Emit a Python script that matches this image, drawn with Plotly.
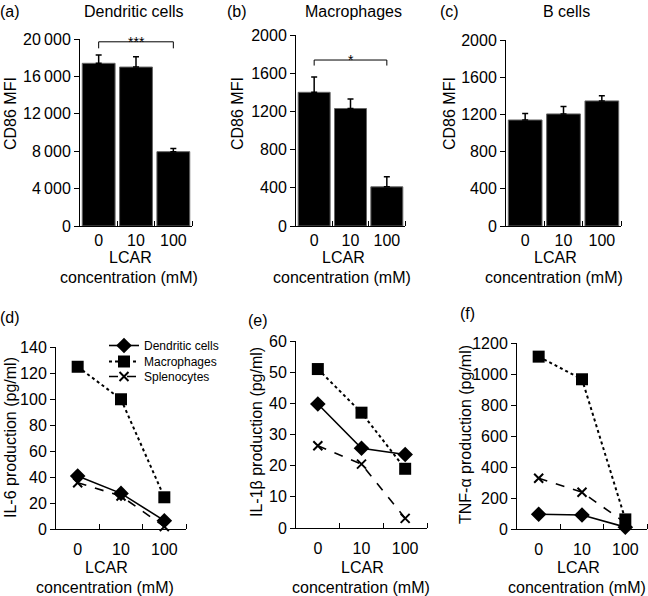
import plotly.graph_objects as go

# ---- data ----
conc_labels = ["0", "10", "100"]
xpos = [0, 1, 2]

# CD86 MFI (mean, upper error)
dc_cd86 = [17400, 17000, 7950]
dc_cd86_err = [900, 1100, 350]
mac_cd86 = [1400, 1230, 410]
mac_cd86_err = [160, 100, 105]
b_cd86 = [1140, 1205, 1345]
b_cd86_err = [70, 80, 55]

# cytokine production (pg/ml)
il6_dc = [40.8, 27.4, 6.4]
il6_mac = [124.8, 99.8, 24.4]
il6_spl = [35.6, 25.4, 1.8]

il1b_dc = [39.8, 25.6, 23.6]
il1b_mac = [51, 37, 19]
il1b_spl = [26.4, 20.5, 3.1]

tnf_dc = [95, 90, 12]
tnf_mac = [1112, 966, 62]
tnf_spl = [327, 237, 40]

W, H = 648, 596
FONT = "Liberation Sans"
THIN = "\u2009"


def dx(a, b):
    return [a / W, b / W]


def dy(top, bottom):
    return [1 - bottom / H, 1 - top / H]


fig = go.Figure()

# panel layout in pixels: (x0, x1, ytop, ybottom)
panels = {
    1: (80, 192, 39, 226),
    2: (296, 405, 35, 226),
    3: (506, 621, 40, 226),
    4: (56, 186, 347, 529),
    5: (296, 427, 341, 528),
    6: (517, 647, 343, 529),
}

bar_sets = [
    (1, dc_cd86, dc_cd86_err),
    (2, mac_cd86, mac_cd86_err),
    (3, b_cd86, b_cd86_err),
]
for i, vals, errs in bar_sets:
    fig.add_trace(
        go.Bar(
            x=xpos,
            y=vals,
            marker=dict(color="black", line=dict(color="#666", width=1)),
            error_y=dict(
                type="data",
                symmetric=False,
                array=errs,
                arrayminus=[0, 0, 0],
                color="black",
                thickness=1.5,
                width=3,
            ),
            xaxis=f"x{i}",
            yaxis=f"y{i}",
            showlegend=False,
        )
    )

series_style = [
    ("Dendritic cells", "solid", "diamond", 12, 1.6, "legend"),
    ("Macrophages", "dot", "square", 12, 2, "legend2"),
    ("Splenocytes", "dash", "x-thin", 9, 1.6, "legend3"),
]
line_sets = [
    (4, [il6_dc, il6_mac, il6_spl]),
    (5, [il1b_dc, il1b_mac, il1b_spl]),
    (6, [tnf_dc, tnf_mac, tnf_spl]),
]
for i, ys in line_sets:
    for (name, dash, sym, size, lw, leg), y in zip(series_style, ys):
        fig.add_trace(
            go.Scatter(
                x=xpos,
                y=y,
                mode="lines+markers",
                name=name,
                line=dict(color="black", dash=dash, width=lw),
                marker=dict(
                    symbol=sym,
                    size=size,
                    color="black",
                    line=dict(color="black", width=2 if sym == "x-thin" else 0),
                ),
                xaxis=f"x{i}",
                yaxis=f"y{i}",
                showlegend=(i == 4),
                legend=leg,
                cliponaxis=False,
            )
        )

yticks = {
    1: ([0, 4000, 8000, 12000, 16000, 20000],
        ["0", f"4{THIN}000", f"8{THIN}000", f"12{THIN}000", f"16{THIN}000", f"20{THIN}000"]),
    2: ([0, 400, 800, 1200, 1600, 2000], ["0", "400", "800", "1200", "1600", "2000"]),
    3: ([0, 400, 800, 1200, 1600, 2000], ["0", "400", "800", "1200", "1600", "2000"]),
    4: ([0, 20, 40, 60, 80, 100, 120, 140], ["0", "20", "40", "60", "80", "100", "120", "140"]),
    5: ([0, 10, 20, 30, 40, 50, 60], ["0", "10", "20", "30", "40", "50", "60"]),
    6: ([0, 200, 400, 600, 800, 1000, 1200], ["0", "200", "400", "600", "800", "1000", "1200"]),
}
yranges = {1: [0, 20000], 2: [0, 2000], 3: [0, 2000], 4: [0, 140], 5: [0, 60], 6: [0, 1200]}

axes = {}
for i, (x0, x1, yt, yb) in panels.items():
    sfx = "" if i == 1 else str(i)
    axes[f"xaxis{sfx}"] = dict(
        domain=dx(x0, x1),
        anchor=f"y{i}",
        range=[-0.5, 2.5],
        tickmode="array",
        tickvals=xpos,
        ticktext=conc_labels,
        ticks="",
        ticklabelstandoff=0 if i <= 3 else 6,
        minor=dict(ticks="inside", tickvals=[0.5, 1.5, 2.5], ticklen=5,
                   tickcolor="black", tickwidth=1),
        showline=True,
        linecolor="black",
        linewidth=1,
        showgrid=False,
        zeroline=False,
        automargin=False,
        tickfont=dict(size=16, color="black", family=FONT),
        fixedrange=True,
    )
    tv, tt = yticks[i]
    axes[f"yaxis{sfx}"] = dict(
        domain=dy(yt, yb),
        anchor=f"x{i}",
        range=yranges[i],
        tickmode="array",
        tickvals=tv,
        ticktext=tt,
        ticks="outside",
        ticklen=5,
        tickcolor="black",
        showline=True,
        linecolor="black",
        linewidth=1,
        showgrid=False,
        zeroline=False,
        automargin=False,
        tickfont=dict(size=16, color="black", family=FONT),
        fixedrange=True,
    )

# significance brackets
shapes = [
    dict(type="path", xref="x", yref="y", path="M 0,19000 L 0,19700 L 2,19700 L 2,19000",
         line=dict(color="black", width=1)),
    dict(type="path", xref="x2", yref="y2", path="M 0,1680 L 0,1738 L 2,1738 L 2,1680",
         line=dict(color="black", width=1)),
]

ann = []


def txt(x, y, s, size=16, angle=0):
    ann.append(dict(x=x / W, y=1 - y / H, xref="paper", yref="paper", text=s,
                    showarrow=False, textangle=angle, xanchor="center", yanchor="middle",
                    font=dict(size=size, color="black", family=FONT)))


# panel letters and titles
txt(10, 11, "(a)")
txt(134, 11, "Dendritic cells")
txt(237, 11, "(b)")
txt(353, 11, "Macrophages")
txt(449, 11, "(c)")
txt(566, 11, "B cells")
txt(10, 318, "(d)")
txt(258, 320, "(e)")
txt(467, 313, "(f)")

# y titles
txt(10, 114, "CD86 MFI", angle=-90)
txt(237, 114, "CD86 MFI", angle=-90)
txt(449, 114, "CD86 MFI", angle=-90)
txt(10, 438, "IL-6 production (pg/ml)", angle=-90)
txt(256, 432, "IL-1\u03b2 production (pg/ml)", angle=-90)
txt(465, 435, "TNF-\u03b1 production (pg/ml)", angle=-90)

# x titles
for cx, ly, cy in [(130, 257, 277), (343, 257, 277), (555, 257, 277),
                   (106, 567, 587), (362, 567, 587), (578, 567, 587)]:
    txt(cx, ly, "LCAR")
    txt(cx - 1, cy, "concentration (mM)")

# stars above brackets
ann.append(dict(x=1, y=19700, xref="x", yref="y", text="***", showarrow=False,
                yanchor="middle", font=dict(size=14, color="black", family=FONT)))
ann.append(dict(x=1, y=1738, xref="x2", yref="y2", text="*", showarrow=False,
                yanchor="middle", font=dict(size=14, color="black", family=FONT)))

leg_common = dict(
    xanchor="left", yanchor="top", xref="paper", yref="paper",
    font=dict(size=12, color="black", family=FONT),
    bgcolor="rgba(0,0,0,0)", itemwidth=30,
)

fig.update_layout(
    width=W,
    height=H,
    autosize=False,
    margin=dict(l=0, r=0, t=0, b=0, pad=0, autoexpand=False),
    paper_bgcolor="white",
    plot_bgcolor="white",
    font=dict(family=FONT, color="black", size=16),
    bargap=0.12,
    shapes=shapes,
    annotations=ann,
    showlegend=True,
    hovermode=False,
    legend=dict(x=104 / W, y=1 - 331 / H, **leg_common),
    legend2=dict(x=104 / W, y=1 - 347 / H, **leg_common),
    legend3=dict(x=104 / W, y=1 - 362 / H, **leg_common),
    **axes,
)

fig.write_html(
    "out.html",
    config={"displayModeBar": False},
    post_script="document.body.style.margin='0px';",
)
